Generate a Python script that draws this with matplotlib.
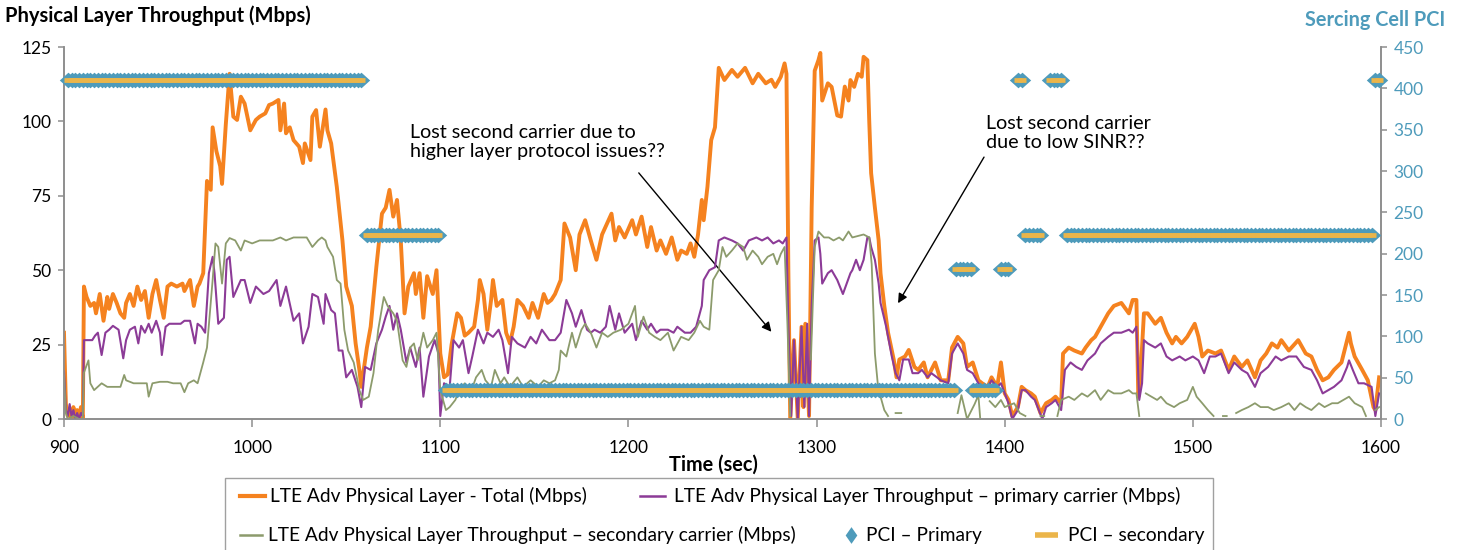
import numpy as np
import matplotlib
matplotlib.use("Agg")
import matplotlib.pyplot as plt
from matplotlib.lines import Line2D
from matplotlib.patches import Rectangle

plt.rcParams['font.family'] = ['Lato', 'DejaVu Sans']

# ---- throughput samples: (time in sec, Mbps) ----
total_mbps = [
    (900, 29), (901, 5), (902, 1), (903, 3), (904, 0), (905, 4), (906, 1), (907, 3), (908, 0), (909, 4), (910, 0),
    (910.6, 44.5), (912, 41), (914, 38), (916, 39), (917, 35.5), (919, 42), (921, 33), (923, 41), (924, 37),
    (926, 42), (928, 39), (930, 35.5), (932, 34), (933, 39), (935, 42), (937, 38), (939, 44.5), (941, 40),
    (943, 43), (945, 34), (947, 42), (949, 46.7), (951, 40), (953, 34), (955, 44.5), (957, 45.5), (960, 44.5),
    (963, 45.5), (964, 43), (967, 46.7), (969, 38), (971, 44.5), (972, 45.5), (974, 49),
    (976, 80), (978, 77), (979, 98), (981, 90), (983, 85), (984, 79), (986, 99), (988, 116), (990, 101.6),
    (992, 100.5), (994, 108.3), (996, 106), (999, 97), (1002, 100.5), (1004, 101.6), (1007, 102.7),
    (1009, 105.5), (1011, 106), (1014, 107.2), (1015, 97), (1017, 106), (1018, 96), (1020, 98), (1022, 93.7),
    (1025, 91.5), (1027, 86), (1028, 92.6), (1031, 87), (1032, 101.6), (1034, 103.8), (1036, 91.5),
    (1039, 104), (1040, 97), (1042, 92.6), (1045, 78), (1048, 60), (1050, 44.5), (1053, 38), (1055, 25.4),
    (1057, 16.5), (1058, 10.8), (1061, 24), (1063, 31), (1066, 51), (1069, 69), (1071, 71), (1073, 77),
    (1075, 68), (1077, 73.6), (1079, 60), (1081, 35.5), (1083, 44.5), (1086, 49), (1087, 42), (1089, 49),
    (1091, 34), (1093, 48), (1096, 42), (1098, 50), (1100, 22), (1102, 14), (1104, 15), (1106, 25),
    (1109, 35.5), (1111, 34), (1113, 28), (1115, 29), (1118, 31), (1120, 40), (1121, 46.7), (1123, 42),
    (1125, 30), (1127, 40), (1128, 46.7), (1130, 38), (1133, 40), (1135, 29), (1137, 25.4), (1139, 31),
    (1141, 40), (1144, 38), (1147, 34), (1149, 39), (1152, 34), (1155, 42), (1157, 39), (1159, 40),
    (1161, 42), (1164, 46.7), (1166, 65.7), (1169, 61), (1172, 50), (1174, 62), (1177, 66.8), (1180, 60),
    (1183, 53.5), (1186, 62), (1191, 69), (1193, 60), (1195, 64.5), (1198, 61), (1202, 66.8), (1204, 62),
    (1207, 68), (1210, 57.8), (1212, 64.5), (1215, 56.6), (1217, 60), (1220, 55.5), (1223, 61), (1226, 53.5),
    (1228, 56.6), (1231, 55.5), (1233, 59), (1235, 54.5), (1237, 62), (1239, 73.6), (1240, 66.8), (1242, 78),
    (1244, 93.7), (1246, 98), (1248, 118), (1251, 113.9), (1255, 117.3), (1258, 115), (1262, 118),
    (1266, 112.8), (1269, 116), (1273, 112.8), (1276, 114), (1278, 111.6), (1281, 115), (1283, 119.5),
    (1284, 116), (1285, 50), (1286, 0), (1288, 26.5), (1290, 0), (1292, 31), (1293, 4), (1294, 32), (1296, 1),
    (1297.4, 71), (1299, 117), (1301, 120.6), (1302, 123), (1303, 107), (1306, 112.8), (1308, 111.6),
    (1311, 102), (1313, 101.6), (1315, 111.7), (1317, 107), (1318, 113.9), (1320, 111.6), (1322, 116),
    (1324, 115), (1325, 121.7), (1327, 120.6), (1328, 100), (1329, 82.6), (1331, 71), (1333, 60),
    (1334, 48.9), (1336, 38), (1338, 29), (1341, 20), (1342.5, 14), (1344, 20), (1347, 21), (1349, 23.2),
    (1352, 17.5), (1354, 16.5), (1357, 19), (1359, 14), (1361, 16.5), (1363, 19), (1366, 13), (1370, 13),
    (1372, 24), (1375, 27.6), (1378, 25.4), (1380, 17.5), (1383, 19), (1386, 13), (1388, 12), (1391, 10.8),
    (1393, 14), (1396, 10.8), (1398, 19), (1400, 8.6), (1402, 6.4), (1404, 1), (1407, 4), (1409, 10.8),
    (1411, 9.7), (1414, 8.6), (1416, 7.5), (1419, 2), (1422, 5.3), (1425, 6.4), (1427, 7.5), (1430, 5.3),
    (1431, 22), (1434, 24), (1437, 23), (1441, 22), (1443, 24), (1446, 26.5), (1448, 27.6), (1451, 31),
    (1455, 35.5), (1458, 38), (1462, 39), (1466, 35.5), (1468, 40), (1470, 40), (1471, 7.5), (1472, 13),
    (1474, 35.5), (1476, 35.5), (1480, 32), (1483, 34), (1486, 29), (1489, 25.4), (1491, 27.6), (1494, 25.4),
    (1497, 27.6), (1501, 32), (1503, 27.6), (1505, 21), (1508, 23), (1512, 22), (1515, 23), (1519, 16.5),
    (1522, 21), (1526, 17.5), (1529, 19.7), (1533, 14), (1536, 19.7), (1539, 22), (1542, 25.4), (1545, 24),
    (1547, 26.5), (1551, 23), (1556, 26.5), (1560, 22), (1563, 21), (1566, 16.5), (1569, 13), (1572, 14),
    (1575, 16.5), (1579, 19), (1581, 24), (1583, 29), (1584, 25.4), (1586, 21), (1590, 16.5), (1593, 13),
    (1596, 4), (1597, 3), (1599, 14),
]

primary_mbps = [
    (900, 16), (901, 3), (902, 1), (903, 5), (904, 1), (905, 3), (906, 0), (907, 2), (908, 0), (909, 2), (910, 1),
    (910.6, 26.5), (913, 26.5), (915, 26.5), (916.5, 28), (918, 29), (920, 21.5), (922, 29), (924, 30),
    (926, 31.3), (929, 30), (931.5, 20.4), (933, 26.5), (935, 30), (937.7, 31), (939.5, 25.4), (941, 31.3),
    (943, 29), (945, 32), (946.6, 29), (949, 33), (951, 29), (952, 21.5), (954, 31), (956, 32), (959, 32),
    (962, 32), (964, 33), (967, 33), (969.6, 25.4), (971, 32), (973, 31), (975, 29), (977, 49), (979, 54.5),
    (980, 49), (982, 32), (985, 34), (986.5, 53.5), (988, 54.5), (990, 41), (994, 46.7), (996, 46.7),
    (999, 39), (1002, 44.5), (1006, 42), (1009, 43), (1013, 46.7), (1015, 38), (1018, 44.5), (1022, 33),
    (1025, 35.5), (1027, 25.4), (1030, 31), (1032, 42), (1035, 41), (1038, 32), (1039, 42), (1042, 36.6),
    (1044, 35.5), (1046, 23), (1048, 23), (1050, 14), (1053, 16.5), (1056, 10.8), (1058, 4), (1060, 17.5),
    (1063, 16.5), (1066, 25.4), (1069, 30), (1071, 34.4), (1073, 38), (1075, 30), (1077, 35.5), (1079, 30),
    (1082, 19), (1084, 24), (1087, 17.5), (1089, 24), (1091, 7.5), (1094, 21), (1097, 26.5), (1099, 22),
    (1100, 1), (1102, 12), (1105, 10.8), (1107, 26.5), (1110, 24), (1112, 26.5), (1115, 15.4), (1117, 21),
    (1120, 30), (1123, 25.4), (1125, 29), (1128, 27.6), (1131, 30), (1133, 26.5), (1136, 15.4), (1138, 27.6),
    (1141, 25.4), (1145, 24), (1148, 27.6), (1151, 25.4), (1154, 30), (1158, 26.5), (1161, 26.5), (1164, 29),
    (1167, 40), (1170, 35.5), (1172, 31), (1175, 36.6), (1178, 30), (1180, 29), (1182, 30), (1185, 29),
    (1188, 31), (1190, 38), (1193, 30), (1195, 35.5), (1198, 29), (1202, 32), (1204, 26.5), (1207, 33),
    (1210, 30), (1212, 32), (1215, 29), (1217, 30), (1221, 30), (1224, 29), (1226, 31), (1230, 29),
    (1233, 29), (1236, 31), (1239, 38), (1240, 46.7), (1243, 50), (1246, 51), (1248, 60), (1251, 61),
    (1255, 60), (1258, 59), (1261, 56.6), (1264, 60), (1268, 61), (1271, 60), (1274, 61), (1277, 59),
    (1280, 60), (1282, 59), (1284, 61), (1285, 32), (1286.5, 1), (1288, 26.5), (1290, 0), (1292, 31),
    (1293.5, 4), (1295, 32), (1296, 1), (1297.4, 38), (1299, 60), (1301, 61), (1302, 55.5), (1303, 45.5),
    (1306, 49), (1308, 50), (1311, 46.7), (1314, 42), (1316, 45.5), (1318, 49), (1319, 50), (1321, 53.5),
    (1323, 50), (1325, 53.5), (1327, 61), (1328, 61), (1329, 57.8), (1331, 53.5), (1333, 45.5), (1334, 39),
    (1337, 31), (1340, 21), (1342, 15.4), (1344, 13), (1346, 20), (1349, 20), (1351, 15.4), (1354, 15.4),
    (1356, 16.5), (1359, 14), (1361, 15.4), (1364, 14), (1366, 13), (1370, 12), (1372, 22), (1375, 25.4),
    (1378, 22), (1380, 16.5), (1383, 15.4), (1386, 12), (1388, 10.8), (1391, 10.8), (1393, 13), (1396, 10.8),
    (1398, 12), (1400, 8.6), (1402, 5.3), (1404, 0), (1407, 3), (1409, 9.7), (1411, 9.7), (1414, 7.5),
    (1416, 6.4), (1420, 0), (1422, 4), (1425, 5.3), (1427, 6.4), (1430, 3), (1432, 16.5), (1435, 19),
    (1438, 17.5), (1441, 16.5), (1444, 19.7), (1448, 22), (1451, 25.4), (1455, 27.6), (1458, 29), (1462, 29),
    (1466, 30), (1468, 29), (1470, 31), (1471.5, 6.4), (1473, 12), (1474, 26.5), (1476, 25.4), (1480, 24),
    (1483, 25.4), (1486, 21), (1489, 19.7), (1493, 21), (1496, 19.7), (1500, 21), (1503, 19.7), (1506, 15.4),
    (1509, 21), (1512, 21), (1515, 22), (1519, 15.4), (1522, 19), (1526, 16.5), (1529, 15.4), (1533, 10.8),
    (1536, 15.4), (1540, 17.5), (1544, 21), (1547, 19.7), (1551, 21), (1555, 21), (1559, 17.5), (1563, 16.5),
    (1566, 13), (1569, 8.6), (1572, 9.7), (1575, 10.8), (1579, 13), (1582, 17.5), (1583, 19.7), (1585, 16.5),
    (1588, 12), (1591, 12), (1595, 10.8), (1597, 1), (1599, 8.6),
]

# None marks samples with no secondary-carrier report (line break)
secondary_mbps = [
    (900, 14.6), (901, 2), (902, 0), (905, 1), (908, 0), (910, 0), (910.5, 15.4), (913, 19.7), (914, 12),
    (916, 9.7), (920, 12), (923, 10.8), (926, 10.8), (930, 10.8), (932, 14.8), (933, 13), (937, 12),
    (941, 12), (944, 12), (945, 7.5), (947, 12), (951, 12.5), (955, 12.5), (958, 12), (962, 12), (964, 9),
    (966, 12), (969, 13), (971, 12), (974, 19), (976, 24), (979, 46.7), (980.5, 59), (982, 57.8), (984, 45.5),
    (986, 59), (988, 60.8), (991, 60), (994, 56.6), (996, 60), (1000, 59), (1004, 60), (1008, 60), (1011, 60),
    (1015, 61), (1018, 60), (1022, 61), (1025, 61), (1029, 61), (1032, 57.8), (1035, 60), (1037, 61),
    (1039, 60), (1040, 57.8), (1043, 54.5), (1045, 46.7), (1047, 45.5), (1049, 30), (1051, 23), (1054, 19),
    (1057, 9.7), (1059, 6.4), (1062, 7.5), (1064.5, 15.4), (1067, 30), (1070, 41), (1072, 38), (1075, 35.5),
    (1077, 33), (1080, 19.7), (1082, 17.5), (1084, 24), (1086, 25.4), (1088, 19.7), (1091, 29), (1093, 24),
    (1096, 26.5), (1098, 29), (1100, 9.7), (1103, 3), (1105, 4), (1108, 6.4), (1110, 9.7), (1113, 12),
    (1116, 8.6), (1119, 14), (1122, 16.5), (1124, 13), (1127, 10.8), (1129, 16.5), (1132, 12), (1134, 14),
    (1137, 10.8), (1141, 14), (1144, 10.8), (1148, 13), (1152, 10.8), (1155, 13), (1158, 12), (1161, 13),
    (1163, 16.5), (1164, 23), (1167, 21), (1170, 29), (1172, 24), (1175, 30), (1177, 32), (1180, 29),
    (1183, 24), (1186, 29), (1189, 27.6), (1192, 29), (1196, 30), (1200, 32), (1203.5, 38), (1205, 27.6),
    (1208, 34.4), (1211, 29), (1214, 27.6), (1217, 26.5), (1221, 29), (1224, 23), (1228, 27.6), (1232, 26.5),
    (1235, 29), (1238, 33), (1240, 31), (1243, 30), (1245, 46.7), (1248, 50), (1250, 57.8), (1252, 54.5),
    (1255, 56.6), (1258, 59), (1261, 57.8), (1263, 53.5), (1266, 56.6), (1269, 54.5), (1271, 52), (1274, 54.5),
    (1277, 55.5), (1279, 52), (1281, 55.5), (1283, 57.8), (1284.5, 32), (1286, 1), (1287, None),
    (1297, 20), (1299, 57.8), (1301, 63), (1304, 61), (1306.5, 61), (1309, 60), (1312, 61), (1314, 60),
    (1317, 63), (1319, 61), (1322, 61.5), (1325, 62), (1328, 61), (1329.3, 52), (1331, 22), (1332.5, 12),
    (1334, 7.5), (1336, 3), (1338, 1), (1339, None), (1342, 2), (1345, 2), (1346, None),
    (1375, 2), (1377, 8), (1380, 0), (1384, 5), (1386, 8), (1387, 0), (1388, None),
    (1392, 6), (1395, 4), (1398, 6.4), (1400, 4), (1405, 5.3), (1408, 2), (1411, 1), (1412, None),
    (1419, 1), (1421, 1), (1422, None), (1428, 1), (1430, 6.4), (1434, 7.5), (1437, 6.4), (1441, 8.6),
    (1444, 7.5), (1448, 9.7), (1451, 6.4), (1455, 9.7), (1458, 8.6), (1462, 8.6), (1466, 9.7), (1468, 8.6),
    (1470, 8.6), (1471.5, 1), (1472.5, None), (1475, 8.6), (1478, 7.5), (1481, 6.4), (1483, 7.5), (1486, 5.3),
    (1490, 4), (1493, 5.3), (1497, 6.4), (1500, 10.8), (1502, 7.5), (1505, 5.3), (1508, 3), (1511, 1),
    (1512, None), (1516, 1), (1518, 1), (1519, None), (1523, 2), (1526, 3), (1529.5, 4), (1533, 5.3),
    (1536, 4), (1540, 4), (1543, 3), (1547, 4), (1551, 5.3), (1554, 3), (1557, 5.3), (1560, 4), (1563, 3),
    (1567, 5.3), (1570, 4), (1574, 5.3), (1577, 5.3), (1580, 6.4), (1583, 7.5), (1586, 5.3), (1590, 4),
    (1592, 1), (1593, None), (1597, 3), (1599, 4),
]

# ---- serving cell PCI: runs of constant PCI, reported every 2 s ----
pci_run_start = [902, 1061, 1103, 1374, 1383, 1398, 1407, 1411, 1424, 1433, 1597]
pci_run_end = [1058, 1099, 1373, 1382, 1395, 1402, 1409, 1420, 1430, 1595, 1599]
pci_run_value = [410, 223, 35, 181, 35, 181, 410, 223, 410, 223, 410]
pci_report_interval = 2

x_ticks = [900, 1000, 1100, 1200, 1300, 1400, 1500, 1600]
y_ticks = [0, 25, 50, 75, 100, 125]
pci_ticks = [0, 50, 100, 150, 200, 250, 300, 350, 400, 450]

ORANGE = '#F5821F'
PURPLE = '#8C3B97'
GREEN = '#8C9B6C'
PCI_BLUE = '#4E9BBB'
PCI_GOLD = '#EBB54A'
AXIS_GREY = '#8E8E8E'


def unzip(pairs):
    t = np.array([p[0] for p in pairs], dtype=float)
    v = np.array([np.nan if p[1] is None else p[1] for p in pairs], dtype=float)
    return t, v


pci_t, pci_v = [], []
for s, e, val in zip(pci_run_start, pci_run_end, pci_run_value):
    ts = np.arange(s, e + 0.5, pci_report_interval)
    pci_t.extend(ts)
    pci_v.extend([val] * len(ts))

W, H = 1463, 550
fig = plt.figure(figsize=(W / 100, H / 100), dpi=100)
ax = fig.add_axes([64 / W, 1 - 419 / H, (1381 - 64) / W, (419 - 47) / H])
ax.patch.set_alpha(0)
ax2 = ax.twinx()

t, v = unzip(total_mbps)
ax.plot(t, v, color=ORANGE, lw=2.8, solid_joinstyle='round', zorder=3)
t, v = unzip(primary_mbps)
ax.plot(t, v, color=PURPLE, lw=1.5, zorder=4)
t, v = unzip(secondary_mbps)
ax.plot(t, v, color=GREEN, lw=1.3, zorder=5)

diamond = [(-1, 0), (0, 0.9), (1, 0), (0, -0.9), (-1, 0)]
ax2.plot(pci_t, pci_v, ls='none', marker=diamond, markersize=12.5,
         markerfacecolor=PCI_BLUE, markeredgecolor='none', clip_on=False, zorder=3)
ax2.plot(pci_t, pci_v, ls='none', marker='_', markersize=6, markeredgewidth=3.4,
         color=PCI_GOLD, clip_on=False, zorder=4)

ax.set_xlim(900, 1600)
ax.set_ylim(0, 125)
ax2.set_ylim(0, 450)
ax.set_xticks(x_ticks)
ax.set_yticks(y_ticks)
ax2.set_yticks(pci_ticks)

for a in (ax, ax2):
    a.spines['top'].set_visible(False)
    for s in ('left', 'right', 'bottom'):
        a.spines[s].set_color(AXIS_GREY)
        a.spines[s].set_linewidth(1.2)

ax.tick_params(axis='x', direction='out', length=6, width=1.1, color=AXIS_GREY,
               labelsize=12.5, pad=9, labelcolor='black')
ax.tick_params(axis='y', direction='out', length=4, width=1.1, color=AXIS_GREY,
               labelsize=12.5, pad=5, labelcolor='black')
ax2.tick_params(axis='y', direction='out', length=4, width=1.1, color=AXIS_GREY,
                labelsize=12.5, pad=5, labelcolor=PCI_BLUE)

W_PX = lambda px: px / W
H_PX = lambda py: 1 - py / H

fig.text(W_PX(713), H_PX(465), 'Time (sec)', fontsize=14.3, fontweight='bold',
         ha='center', va='center')
fig.text(W_PX(5), H_PX(16), 'Physical Layer Throughput (Mbps)', fontsize=14.5,
         fontweight='bold', ha='left', va='center')
fig.text(W_PX(1445), H_PX(20), 'Sercing Cell PCI', fontsize=14.3, fontweight='bold',
         color=PCI_BLUE, ha='right', va='center')

# call-outs
note_fs = 14.2
ax.text(1084, 93, 'Lost second carrier due to\nhigher layer protocol issues??', fontsize=note_fs,
        ha='left', va='center', linespacing=1.17)
ax.annotate('', xy=(1276, 29.3), xytext=(1205.5, 82.7),
            arrowprops=dict(arrowstyle='-|>', color='black', lw=1.0, mutation_scale=14,
                            shrinkA=0, shrinkB=0))
ax.text(1390, 96, 'Lost second carrier\ndue to low SINR??', fontsize=note_fs,
        ha='left', va='center', linespacing=1.17)
ax.annotate('', xy=(1343.3, 38.9), xytext=(1389, 88),
            arrowprops=dict(arrowstyle='-|>', color='black', lw=1.0, mutation_scale=14,
                            shrinkA=0, shrinkB=0))

# legend box laid out in figure pixels
fig.patches.append(Rectangle((W_PX(225), H_PX(560)), W_PX(1213) - W_PX(225), H_PX(478) - H_PX(560),
                             transform=fig.transFigure, facecolor='white',
                             edgecolor='#A0A0A0', lw=1.0))
leg_fs = 13.8
r1, r2 = 496, 535
fig.lines.append(Line2D([W_PX(240), W_PX(265)], [H_PX(r1)] * 2, color=ORANGE, lw=3,
                        transform=fig.transFigure))
fig.text(W_PX(270), H_PX(r1), 'LTE Adv Physical Layer - Total (Mbps)', fontsize=leg_fs, va='center')
fig.lines.append(Line2D([W_PX(640), W_PX(665)], [H_PX(r1)] * 2, color=PURPLE, lw=1.8,
                        transform=fig.transFigure))
fig.text(W_PX(674), H_PX(r1), 'LTE Adv Physical Layer Throughput \u2013 primary carrier (Mbps)',
         fontsize=leg_fs, va='center')
fig.lines.append(Line2D([W_PX(240), W_PX(262)], [H_PX(r2)] * 2, color=GREEN, lw=1.8,
                        transform=fig.transFigure))
fig.text(W_PX(268), H_PX(r2), 'LTE Adv Physical Layer Throughput \u2013 secondary carrier (Mbps)',
         fontsize=leg_fs, va='center')
legend_diamond = [(-0.7, 0), (0, 1), (0.7, 0), (0, -1), (-0.7, 0)]
fig.lines.append(Line2D([W_PX(851)], [H_PX(r2)], ls='none', marker=legend_diamond, markersize=12,
                        markerfacecolor=PCI_BLUE, markeredgecolor='none',
                        transform=fig.transFigure))
fig.text(W_PX(866), H_PX(r2), 'PCI \u2013 Primary', fontsize=leg_fs, va='center')
fig.lines.append(Line2D([W_PX(1035), W_PX(1058)], [H_PX(r2)] * 2, color=PCI_GOLD, lw=4,
                        solid_capstyle='butt', transform=fig.transFigure))
fig.text(W_PX(1068), H_PX(r2), 'PCI \u2013 secondary', fontsize=leg_fs, va='center')

fig.savefig('out.png', dpi=100)
